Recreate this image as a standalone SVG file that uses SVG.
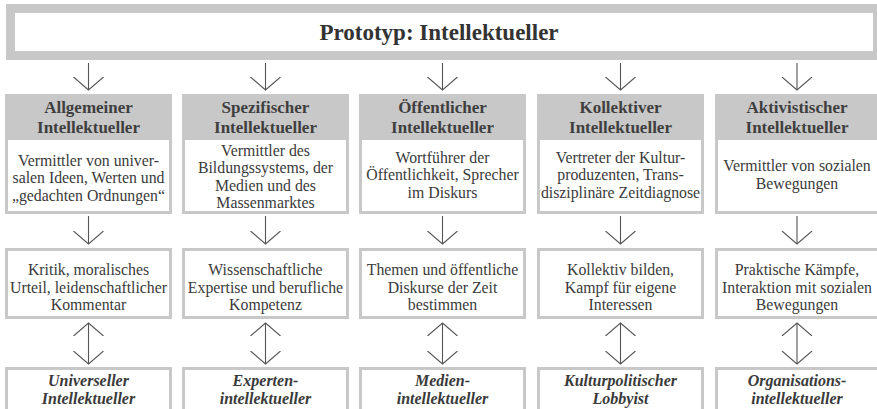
<svg xmlns="http://www.w3.org/2000/svg" width="877" height="409" viewBox="0 0 877 409">
  <defs>
    <style>
      .frame { fill: #c8c8c8; }
      .inner { fill: #ffffff; }
      .title { font-family: "Liberation Serif", "Times New Roman", serif; font-weight: bold; font-size: 23px; fill: #333333; text-anchor: middle; }
      .head { font-family: "Liberation Serif", "Times New Roman", serif; font-weight: bold; font-size: 17px; fill: #3f3f3f; text-anchor: middle; }
      .body { font-family: "Liberation Serif", "Times New Roman", serif; font-size: 15.8px; fill: #3a3a3a; text-anchor: middle; }
      .type { font-family: "Liberation Serif", "Times New Roman", serif; font-weight: bold; font-style: italic; font-size: 16px; fill: #3a3a3a; text-anchor: middle; }
      .conn { stroke: #555555; stroke-width: 1.1; fill: none; }
    </style>
    <marker id="vhead" viewBox="0 0 14 32" refX="13" refY="16" markerWidth="14" markerHeight="32" markerUnits="userSpaceOnUse" orient="auto-start-reverse">
      <path d="M0,1 L13,16 L0,31" fill="none" stroke="#555555" stroke-width="1.1"/>
    </marker>
  </defs>

  <!-- Title bar -->
  <g id="title">
    <rect class="frame" x="6" y="4" width="871" height="56"/>
    <rect class="inner" x="15" y="13" width="858" height="38"/>
    <text class="title" x="439" y="40">Prototyp: Intellektueller</text>
  </g>

  <!-- Column 1 -->
  <g id="allgemein">
    <rect class="frame" x="5" y="94" width="167" height="120"/>
    <rect class="inner" x="8" y="140" width="161" height="71"/>
    <text class="head" x="88.5" y="113">Allgemeiner</text>
    <text class="head" x="88.5" y="133">Intellektueller</text>
    <text class="body" x="88.5" y="165.5">Vermittler von univer-</text>
    <text class="body" x="88.5" y="183">salen Ideen, Werten und</text>
    <text class="body" x="88.5" y="200.5">„gedachten Ordnungen“</text>
  </g>
  <g id="allgemein-rolle">
    <rect class="frame" x="5" y="248" width="167" height="71"/>
    <rect class="inner" x="8" y="251" width="161" height="65"/>
    <text class="body" x="88.5" y="275">Kritik, moralisches</text>
    <text class="body" x="88.5" y="292.5">Urteil, leidenschaftlicher</text>
    <text class="body" x="88.5" y="310">Kommentar</text>
  </g>
  <g id="universell">
    <rect class="frame" x="5" y="367" width="167" height="46"/>
    <rect class="inner" x="8" y="370" width="161" height="46"/>
    <text class="type" x="88.5" y="386">Universeller</text>
    <text class="type" x="88.5" y="404">Intellektueller</text>
  </g>

  <!-- Column 2 -->
  <g id="spezifisch">
    <rect class="frame" x="182" y="94" width="167" height="120"/>
    <rect class="inner" x="185" y="140" width="161" height="71"/>
    <text class="head" x="265.5" y="113">Spezifischer</text>
    <text class="head" x="265.5" y="133">Intellektueller</text>
    <text class="body" x="265.5" y="155.5">Vermittler des</text>
    <text class="body" x="265.5" y="173">Bildungssystems, der</text>
    <text class="body" x="265.5" y="190.5">Medien und des</text>
    <text class="body" x="265.5" y="208">Massenmarktes</text>
  </g>
  <g id="spezifisch-rolle">
    <rect class="frame" x="182" y="248" width="167" height="71"/>
    <rect class="inner" x="185" y="251" width="161" height="65"/>
    <text class="body" x="265.5" y="275">Wissenschaftliche</text>
    <text class="body" x="265.5" y="292.5">Expertise und berufliche</text>
    <text class="body" x="265.5" y="310">Kompetenz</text>
  </g>
  <g id="experte">
    <rect class="frame" x="182" y="367" width="167" height="46"/>
    <rect class="inner" x="185" y="370" width="161" height="46"/>
    <text class="type" x="265.5" y="386">Experten-</text>
    <text class="type" x="265.5" y="404">intellektueller</text>
  </g>

  <!-- Column 3 -->
  <g id="oeffentlich">
    <rect class="frame" x="359" y="94" width="167" height="120"/>
    <rect class="inner" x="362" y="140" width="161" height="71"/>
    <text class="head" x="442.5" y="113">Öffentlicher</text>
    <text class="head" x="442.5" y="133">Intellektueller</text>
    <text class="body" x="442.5" y="162.5">Wortführer der</text>
    <text class="body" x="442.5" y="180">Öffentlichkeit, Sprecher</text>
    <text class="body" x="442.5" y="197.5">im Diskurs</text>
  </g>
  <g id="oeffentlich-rolle">
    <rect class="frame" x="359" y="248" width="167" height="71"/>
    <rect class="inner" x="362" y="251" width="161" height="65"/>
    <text class="body" x="442.5" y="275">Themen und öffentliche</text>
    <text class="body" x="442.5" y="292.5">Diskurse der Zeit</text>
    <text class="body" x="442.5" y="310">bestimmen</text>
  </g>
  <g id="medien">
    <rect class="frame" x="359" y="367" width="167" height="46"/>
    <rect class="inner" x="362" y="370" width="161" height="46"/>
    <text class="type" x="442.5" y="386">Medien-</text>
    <text class="type" x="442.5" y="404">intellektueller</text>
  </g>

  <!-- Column 4 -->
  <g id="kollektiv">
    <rect class="frame" x="537" y="94" width="167" height="120"/>
    <rect class="inner" x="540" y="140" width="161" height="71"/>
    <text class="head" x="620.5" y="113">Kollektiver</text>
    <text class="head" x="620.5" y="133">Intellektueller</text>
    <text class="body" x="620.5" y="162.5">Vertreter der Kultur-</text>
    <text class="body" x="620.5" y="180">produzenten, Trans-</text>
    <text class="body" x="620.5" y="197.5">disziplinäre Zeitdiagnose</text>
  </g>
  <g id="kollektiv-rolle">
    <rect class="frame" x="537" y="248" width="167" height="71"/>
    <rect class="inner" x="540" y="251" width="161" height="65"/>
    <text class="body" x="620.5" y="275">Kollektiv bilden,</text>
    <text class="body" x="620.5" y="292.5">Kampf für eigene</text>
    <text class="body" x="620.5" y="310">Interessen</text>
  </g>
  <g id="lobbyist">
    <rect class="frame" x="537" y="367" width="167" height="46"/>
    <rect class="inner" x="540" y="370" width="161" height="46"/>
    <text class="type" x="620.5" y="386">Kulturpolitischer</text>
    <text class="type" x="620.5" y="404">Lobbyist</text>
  </g>

  <!-- Column 5 -->
  <g id="aktivistisch">
    <rect class="frame" x="715" y="94" width="167" height="120"/>
    <rect class="inner" x="718" y="140" width="161" height="71"/>
    <text class="head" x="797" y="113">Aktivistischer</text>
    <text class="head" x="797" y="133">Intellektueller</text>
    <text class="body" x="797" y="171">Vermittler von sozialen</text>
    <text class="body" x="797" y="188.5">Bewegungen</text>
  </g>
  <g id="aktivistisch-rolle">
    <rect class="frame" x="715" y="248" width="167" height="71"/>
    <rect class="inner" x="718" y="251" width="161" height="65"/>
    <text class="body" x="797" y="275">Praktische Kämpfe,</text>
    <text class="body" x="797" y="292.5">Interaktion mit sozialen</text>
    <text class="body" x="797" y="310">Bewegungen</text>
  </g>
  <g id="organisation">
    <rect class="frame" x="715" y="367" width="167" height="46"/>
    <rect class="inner" x="718" y="370" width="161" height="46"/>
    <text class="type" x="797" y="386">Organisations-</text>
    <text class="type" x="797" y="404">intellektueller</text>
  </g>

  <!-- Connectors -->
  <g id="connectors" class="conn">
    <path d="M88.5,63 V90" marker-end="url(#vhead)"/>
    <path d="M265.5,63 V90" marker-end="url(#vhead)"/>
    <path d="M442.5,63 V90" marker-end="url(#vhead)"/>
    <path d="M620.5,63 V90" marker-end="url(#vhead)"/>
    <path d="M797,63 V90" marker-end="url(#vhead)"/>

    <path d="M88.5,216 V244" marker-end="url(#vhead)"/>
    <path d="M265.5,216 V244" marker-end="url(#vhead)"/>
    <path d="M442.5,216 V244" marker-end="url(#vhead)"/>
    <path d="M620.5,216 V244" marker-end="url(#vhead)"/>
    <path d="M797,216 V244" marker-end="url(#vhead)"/>

    <path d="M88.5,323 V364" marker-start="url(#vhead)" marker-end="url(#vhead)"/>
    <path d="M265.5,323 V364" marker-start="url(#vhead)" marker-end="url(#vhead)"/>
    <path d="M442.5,323 V364" marker-start="url(#vhead)" marker-end="url(#vhead)"/>
    <path d="M620.5,323 V364" marker-start="url(#vhead)" marker-end="url(#vhead)"/>
    <path d="M797,323 V364" marker-start="url(#vhead)" marker-end="url(#vhead)"/>
  </g>
</svg>
